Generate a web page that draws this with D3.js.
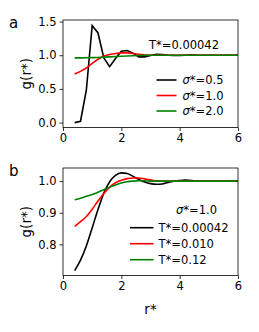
<!DOCTYPE html>
<html>
<head>
<meta charset="utf-8">
<script src="https://cdn.jsdelivr.net/npm/d3@7"></script>
<style>
body { margin: 0; background: #fff; }
text { font-family: "DejaVu Sans", sans-serif; fill: #000; }
</style>
</head>
<body>
<div id="chart"></div>
<script>
// r* sample positions (shared by all curves)
var rs = [0.4, 0.6, 0.8, 1.0, 1.2, 1.4, 1.6, 1.8, 2.0, 2.2, 2.4, 2.6, 2.8, 3.0, 3.2, 3.4, 3.6, 3.8, 4.0,
          4.2, 4.4, 4.6, 4.8, 5.0, 5.2, 5.4, 5.6, 5.8, 6.0];

// panel a: T*=0.00042, different sigma*
var gSig05 = [0.0, 0.02, 0.48, 1.44, 1.33, 0.96, 0.83, 0.95, 1.06, 1.07, 1.03, 0.975, 0.975, 0.995, 1.015,
              1.01, 1.0, 0.995, 0.995, 1.0, 1.005, 1.0, 1.0, 1.0, 1.0, 1.0, 1.0, 1.0, 1.0];
var gSig10 = [0.72, 0.76, 0.81, 0.88, 0.94, 0.99, 1.01, 1.025, 1.035, 1.035, 1.025, 1.015, 1.005, 1.0, 1.0,
              1.0, 1.0, 1.0, 1.0, 1.0, 1.0, 1.0, 1.0, 1.0, 1.0, 1.0, 1.0, 1.0, 1.0];
var gSig20 = [0.96, 0.961, 0.962, 0.964, 0.967, 0.971, 0.975, 0.98, 0.985, 0.989, 0.992, 0.995, 0.997, 0.999, 1.0,
              1.0, 1.0, 1.0, 1.0, 1.0, 1.0, 1.0, 1.0, 1.0, 1.0, 1.0, 1.0, 1.0, 1.0];

// panel b: sigma*=1.0, different T*
var gT1 = [0.717, 0.75, 0.795, 0.852, 0.91, 0.962, 0.998, 1.018, 1.026, 1.024, 1.015, 1.005, 0.997, 0.992, 0.99,
           0.991, 0.996, 1.0, 1.002, 1.003, 1.002, 1.0, 1.0, 1.0, 1.0, 1.0, 1.0, 1.0, 1.0];
var gT2 = [0.857, 0.872, 0.888, 0.911, 0.937, 0.961, 0.981, 0.995, 1.003, 1.008, 1.01, 1.01, 1.007, 1.004, 1.001,
           1.0, 1.0, 1.0, 1.0, 1.0, 1.0, 1.0, 1.0, 1.0, 1.0, 1.0, 1.0, 1.0, 1.0];
var gT3 = [0.941, 0.946, 0.952, 0.958, 0.965, 0.973, 0.981, 0.988, 0.994, 0.998, 1.0, 1.001, 1.001, 1.0, 1.0,
           1.0, 1.0, 1.0, 1.0, 1.0, 1.0, 1.0, 1.0, 1.0, 1.0, 1.0, 1.0, 1.0, 1.0];

var xTicks = [0, 2, 4, 6];
var yTicksA = [0.0, 0.5, 1.0, 1.5];
var yTicksB = [0.8, 0.9, 1.0];
var labelsA = ["\u03c3*=0.5", "\u03c3*=1.0", "\u03c3*=2.0"];
var labelsB = ["T*=0.00042", "T*=0.010", "T*=0.12"];
var colors = ["#000000", "#ff0000", "#008000"];

var width = 259, height = 332;
var svg = d3.select("#chart").append("svg")
    .attr("width", width)
    .attr("height", height);

function panel(top, yDomain, yTicks, series, labels, legend, note, letter, curve) {
    var left = 63, right = 238, h = 107.5;
    var x = d3.scaleLinear().domain([0, 6]).range([left, right]);
    var y = d3.scaleLinear().domain(yDomain).range([top + h, top]);

    var g = svg.append("g");

    var line = d3.line()
        .x(function (d, i) { return x(rs[i]); })
        .y(function (d) { return y(d); })
        .curve(curve);

    var clip = "clip" + letter;
    g.append("clipPath").attr("id", clip)
        .append("rect").attr("x", left).attr("y", top).attr("width", right - left).attr("height", h);

    // green drawn last so it sits on top, as in the figure
    series.forEach(function (s, i) {
        g.append("path")
            .attr("d", line(s))
            .attr("clip-path", "url(#" + clip + ")")
            .attr("fill", "none")
            .attr("stroke", colors[i])
            .attr("stroke-width", 1.6);
    });

    var xAxis = g.append("g")
        .attr("transform", "translate(0," + (top + h) + ")")
        .call(d3.axisBottom(x).tickValues(xTicks).tickFormat(d3.format("d")).tickSizeOuter(0).tickSize(3.5).tickPadding(3));
    var yAxis = g.append("g")
        .attr("transform", "translate(" + left + ",0)")
        .call(d3.axisLeft(y).tickValues(yTicks).tickFormat(d3.format(".1f")).tickSizeOuter(0).tickSize(3.5).tickPadding(3));
    [xAxis, yAxis].forEach(function (a) {
        a.select(".domain").remove();
        a.selectAll("line").attr("stroke", "#000").attr("stroke-width", 0.8);
        a.selectAll("text").style("font-family", "DejaVu Sans").style("font-size", "11.5px");
    });

    g.append("rect")
        .attr("x", left).attr("y", top)
        .attr("width", right - left).attr("height", h)
        .attr("fill", "none").attr("stroke", "#000").attr("stroke-width", 0.8);

    g.append("text")
        .attr("transform", "translate(31," + (top + h / 2) + ") rotate(-90)")
        .attr("text-anchor", "middle")
        .style("font-size", "13.5px")
        .text("g(r*)");

    g.append("text")
        .attr("x", 9).attr("y", top + 8)
        .style("font-size", "15px")
        .text(letter);

    // legend
    labels.forEach(function (lab, i) {
        var ly = legend.y + i * legend.dy;
        g.append("line")
            .attr("x1", legend.x1).attr("x2", legend.x2)
            .attr("y1", ly).attr("y2", ly)
            .attr("stroke", colors[i]).attr("stroke-width", 1.6);
        var t = g.append("text")
            .attr("x", legend.tx).attr("y", ly + 4)
            .style("font-size", "11.5px");
        if (lab.charAt(0) === "\u03c3") {
            t.append("tspan").style("font-style", "italic").text("\u03c3");
            t.append("tspan").text(lab.slice(1));
        } else {
            t.text(lab);
        }
    });

    var nt = g.append("text")
        .attr("x", note.x).attr("y", note.y)
        .style("font-size", "11.5px");
    if (note.text.charAt(0) === "\u03c3") {
        nt.append("tspan").style("font-style", "italic").text("\u03c3");
        nt.append("tspan").text(note.text.slice(1));
    } else {
        nt.text(note.text);
    }
}

panel(20, [-0.0725, 1.5225], yTicksA, [gSig05, gSig10, gSig20], labelsA,
      {x1: 156.5, x2: 176.5, tx: 182.5, y: 80, dy: 15.5},
      {x: 149, y: 48.5, text: "T*=0.00042"}, "a", d3.curveLinear);

panel(168, [0.7015, 1.0415], yTicksB, [gT1, gT2, gT3], labelsB,
      {x1: 130, x2: 153.5, tx: 158.5, y: 227.7, dy: 16},
      {x: 176, y: 213.5, text: "\u03c3*=1.0"}, "b", d3.curveMonotoneX);

svg.append("text")
    .attr("x", 150.5).attr("y", 314)
    .attr("text-anchor", "middle")
    .style("font-size", "13.5px")
    .text("r*");
</script>
</body>
</html>
